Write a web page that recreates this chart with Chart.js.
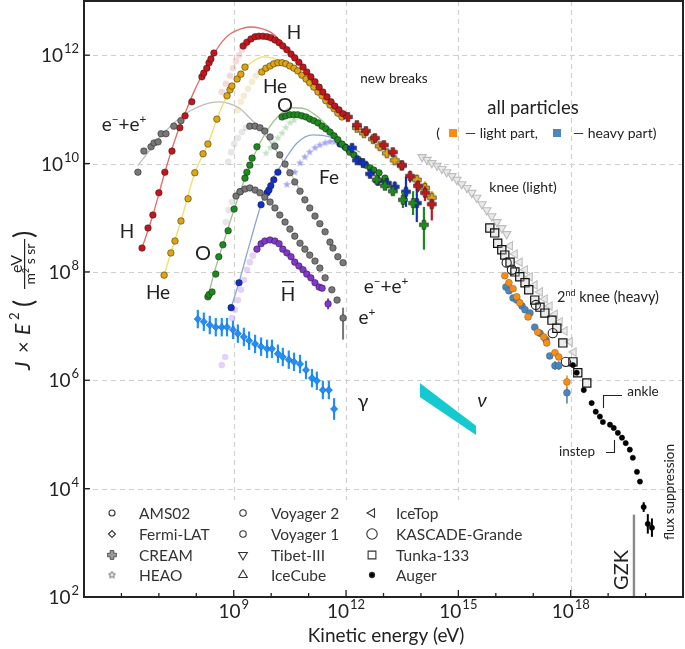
<!DOCTYPE html>
<html><head><meta charset="utf-8">
<script src="https://cdn.jsdelivr.net/npm/chart.js@4.4.1/dist/chart.umd.min.js"></script>
<style>html,body{margin:0;padding:0;background:#fff;}canvas{display:block;}</style>
</head><body>
<canvas id="c" width="685" height="649"></canvas>
<script>
// ===== DATA (log10 of kinetic energy [eV] and log10 of J*E^2) =====
const xTickExp = [9, 12, 15, 18];
const yTickExp = [2, 4, 6, 8, 10, 12];
const legendNames = ['AMS02','Fermi-LAT','CREAM','HEAO','Voyager 2','Voyager 1','Tibet-III','IceCube','IceTop','KASCADE-Grande','Tunka-133','Auger'];

// Protons (H)
const H_E  = [6.55,6.71,6.84,7.00,7.16,7.35,7.56,7.70,7.88,8.15,8.20,8.28,8.34,8.39,8.47];
const H_F  = [8.44,8.81,9.05,9.46,9.84,10.23,10.66,10.88,11.14,11.60,11.67,11.76,11.86,11.93,12.04];
const Hf_E = [8.68,8.79,8.90,8.98,9.06,9.14,9.22,9.30];
const Hf_F = [11.32,11.47,11.62,11.76,11.89,12.00,12.10,12.17];
const Hd_E = [9.25,9.35,9.46,9.57,9.67,9.78,9.89,9.99,10.10,10.21,10.31,10.42,10.53,10.63,10.74,10.85,10.95,11.06,11.17,11.28,11.38,11.49,11.60,11.70,11.81,11.92];
const Hd_F = [12.17,12.24,12.30,12.34,12.35,12.35,12.34,12.32,12.28,12.23,12.17,12.10,12.02,11.95,11.87,11.78,11.69,11.60,11.51,11.41,11.32,11.23,11.14,11.06,10.99,10.92];
const Hc_E = [6.55,6.84,7.16,7.43,7.70,7.96,8.23,8.47,8.68,8.90,9.17,9.43,9.70,9.97,10.23,10.50,10.77,11.03,11.30,11.57,11.92];
const Hc_F = [8.44,9.05,9.84,10.44,10.93,11.36,11.73,12.02,12.24,12.39,12.48,12.52,12.50,12.43,12.28,12.08,11.87,11.64,11.42,11.18,10.94];
const Hx_E = [12.05,12.29,12.53,12.77,13.01,13.25,13.49,13.71,13.92,14.11,14.29];
const Hx_F = [10.86,10.71,10.60,10.47,10.34,10.21,9.97,9.77,9.59,9.46,9.25];
const Hx_lo = [0.04,0.04,0.04,0.05,0.05,0.06,0.08,0.12,0.12,0.15,0.30];
const Hx_hi = [0.04,0.04,0.04,0.05,0.05,0.06,0.08,0.10,0.10,0.12,0.10];

// Helium
const He_E  = [7.14,7.32,7.43,7.59,7.78,7.96,8.18,8.31,8.55,8.82,8.90,8.95,9.09,9.19,9.30];
const He_F  = [7.94,8.35,8.57,8.94,9.35,9.83,10.18,10.36,10.82,11.25,11.36,11.43,11.56,11.65,11.78];
const Hef_E = [9.11,9.19,9.27,9.38,9.49,9.59,9.70];
const Hef_F = [10.99,11.14,11.25,11.38,11.51,11.62,11.69];
const Hed_E = [9.75,9.86,9.97,10.07,10.18,10.29,10.39,10.50,10.61,10.71,10.82,10.93,11.03,11.14,11.25,11.36,11.46,11.57,11.68,11.78,11.89];
const Hed_F = [11.69,11.76,11.80,11.84,11.86,11.86,11.84,11.80,11.76,11.71,11.63,11.56,11.49,11.41,11.32,11.25,11.16,11.08,11.01,10.93,10.86];
const Hec_E = [7.14,7.32,7.59,7.96,8.31,8.55,8.82,9.09,9.33,9.57,9.78,10.02,10.29,10.55,10.82,11.17,11.57,11.89];
const Hec_F = [7.94,8.35,8.94,9.83,10.36,10.82,11.25,11.56,11.78,11.91,11.97,11.95,11.87,11.78,11.64,11.40,11.10,10.88];
const Hex_E = [12.29,12.48,12.72,12.90,13.09,13.30,13.49,13.89,14.11,14.29];
const Hex_F = [10.66,10.56,10.45,10.32,10.19,10.06,9.96,9.70,9.55,9.37];
const Hex_lo = [0.04,0.04,0.04,0.05,0.05,0.06,0.07,0.12,0.14,0.20];
const Hex_hi = [0.04,0.04,0.04,0.05,0.05,0.06,0.07,0.10,0.12,0.12];

// Electrons + positrons
const eL_E = [6.44,6.60,6.79,6.87,6.98,7.06,7.19,7.40,7.59];
const eL_F = [9.84,10.23,10.31,10.38,10.40,10.55,10.55,10.69,10.79];
const eC_E = [6.44,6.76,7.03,7.30,7.56,7.83,8.10,8.36,8.63,8.90,9.17,9.43,9.70,9.97,10.23,10.50,10.77];
const eC_F = [9.96,10.25,10.49,10.68,10.84,10.97,11.06,11.12,11.14,11.10,11.01,10.84,10.64,10.40,10.14,9.84,9.51];
const eUf_E = [8.85,8.93,9.01,9.11,9.22,9.33];
const eUf_F = [10.03,10.21,10.36,10.47,10.58,10.66];
const eU_E = [9.43,9.57,9.70,9.83,9.97,10.10,10.23,10.37,10.50,10.63,10.77,10.90,11.03,11.17,11.30,11.44,11.57,11.65,11.78,11.92];
const eU_F = [10.69,10.69,10.66,10.60,10.49,10.32,10.16,9.99,9.83,9.66,9.49,9.33,9.18,9.03,8.89,8.74,8.55,8.44,8.28,8.17];
const eLf_E = [8.79,8.87,8.95];
const eLf_F = [8.92,9.14,9.29];
const eLo_E = [9.06,9.17,9.30,9.43,9.57,9.70,9.83,9.97,10.10,10.23,10.37,10.50,10.63,10.77,10.90,11.03,11.17,11.30,11.44,11.62,11.76];
const eLo_F = [9.40,9.48,9.53,9.55,9.51,9.46,9.38,9.29,9.18,9.05,8.92,8.79,8.66,8.53,8.42,8.31,8.20,8.07,7.89,7.67,7.48];
const ePos_E = [11.92], ePos_F = [7.15], ePos_lo = [0.40], ePos_hi = [0.19];

// Antiprotons
const pbf_E = [8.68,8.77,8.95,9.03,9.11,9.19,9.27,9.35,9.43,9.51];
const pbf_F = [6.28,6.43,7.15,7.30,7.48,7.67,7.85,8.04,8.18,8.30];
const pb_E = [9.62,9.73,9.83,9.97,10.10,10.21,10.31,10.42,10.53,10.63,10.74,10.85,10.95,11.06,11.17,11.28,11.36];
const pb_F = [8.42,8.52,8.57,8.59,8.57,8.52,8.42,8.35,8.28,8.18,8.11,8.04,7.96,7.89,7.80,7.72,7.70];
const pbx_E = [11.52], pbx_F = [7.41], pbx_err = [0.10];

// Oxygen
const O_E  = [8.31,8.34,8.42,8.52,8.60,8.71,8.85,9.01,9.17,9.30,9.35,9.43,9.49,9.62];
const O_F  = [7.54,7.58,7.63,7.96,8.28,8.50,8.76,9.16,9.48,9.73,9.84,9.97,10.10,10.31];
const Of_E = [9.86,9.97,10.07,10.18,10.29,10.39,10.50,10.61];
const Of_F = [10.19,10.29,10.38,10.47,10.56,10.66,10.75,10.80];
const Od_E = [10.29,10.39,10.50,10.61,10.71,10.82,10.93,11.03,11.14,11.25,11.36,11.46,11.57,11.68,11.78,11.89,12.00,12.10,12.21,12.32,12.42,12.53,12.64,12.74,12.88,13.04];
const Od_F = [10.86,10.88,10.90,10.90,10.90,10.88,10.86,10.82,10.79,10.75,10.69,10.64,10.58,10.51,10.44,10.36,10.29,10.21,10.16,10.08,10.03,9.97,9.92,9.88,9.83,9.73];
const Oc_E = [8.31,8.50,8.68,8.90,9.17,9.43,9.70,9.97,10.23,10.55,10.90,11.25,11.57,11.89,12.16,12.42];
const Oc_F = [7.54,8.04,8.44,8.92,9.48,9.97,10.38,10.69,10.90,11.03,11.01,10.86,10.65,10.40,10.22,10.06];
const Ox_E = [12.82,13.04,13.25,13.52,13.79,14.08];
const Ox_F = [9.70,9.59,9.49,9.33,9.27,8.87];
const Ox_lo = [0.05,0.05,0.08,0.15,0.22,0.46];
const Ox_hi = [0.05,0.05,0.08,0.15,0.22,0.33];

// Iron
const Fe_E  = [8.93,9.14,9.73,9.89,9.94,9.99,10.07,10.18];
const Fe_F  = [7.34,7.80,9.24,9.46,9.51,9.59,9.70,9.84];
const Fes_E = [10.42,10.63,10.77,10.90,11.03,11.17,11.30,11.44,11.57,11.70];
const Fes_F = [9.61,9.84,10.01,10.12,10.21,10.29,10.34,10.38,10.40,10.40];
const Fed_E = [11.84,11.97,12.08];
const Fed_F = [10.36,10.31,10.25];
const Fex_E = [12.16,12.29,12.45,12.64,12.85,13.09,13.30,13.60,13.89];
const Fex_F = [10.29,10.06,10.01,9.81,9.68,9.64,9.57,9.48,9.27];
const Fex_lo = [0.04,0.05,0.05,0.06,0.08,0.08,0.10,0.28,0.35];
const Fex_hi = [0.04,0.05,0.05,0.06,0.08,0.08,0.10,0.28,0.42];
const Fec_E = [8.93,9.14,9.43,9.73,9.99,10.31,10.69,11.11,11.57,12.02,12.37];
const Fec_F = [7.34,7.81,8.53,9.24,9.66,10.01,10.38,10.53,10.49,10.34,10.21];

// Diffuse gamma rays
const g_E = [8.04,8.20,8.36,8.52,8.68,8.82,8.98,9.11,9.27,9.41,9.57,9.73,9.89,10.02,10.18,10.31,10.47,10.61,10.77,10.93,11.09,11.22,11.38,11.54,11.68];
const g_F = [7.13,7.08,7.02,6.98,6.98,6.98,6.93,6.86,6.80,6.73,6.67,6.62,6.58,6.58,6.49,6.43,6.38,6.34,6.30,6.19,6.04,5.99,5.82,5.82,5.47];
const g_err = [0.17,0.17,0.17,0.17,0.17,0.17,0.17,0.17,0.17,0.17,0.17,0.17,0.17,0.17,0.17,0.17,0.17,0.17,0.17,0.17,0.17,0.17,0.17,0.17,0.20];

// Neutrinos (IceCube band)
const nu_E  = [13.97,15.47];
const nu_Hi = [5.95,5.16];
const nu_Lo = [5.69,4.99];

// Air-shower all-particle data
const tib_E = [14.03,14.16,14.29,14.43,14.56,14.69,14.83,14.96,15.09,15.23,15.36,15.49,15.63,15.76,15.89,16.03,16.16,16.29];
const tib_F = [10.12,10.07,10.01,9.96,9.90,9.84,9.77,9.70,9.62,9.55,9.46,9.37,9.25,9.14,9.03,8.92,8.81,8.70];
const itp_E = [16.38,16.51,16.64,16.78,16.91,17.04,17.18,17.31,17.44,17.58,17.71,17.84,17.98,18.08];
const itp_F = [8.48,8.33,8.18,8.04,7.91,7.76,7.63,7.50,7.37,7.22,7.08,6.91,6.71,6.52];
const tun_E = [15.84,15.97,16.05,16.16,16.24,16.38,16.51,16.64,16.78,16.88,17.04,17.18,17.31,17.50,17.63,17.79,18.06,18.19,18.43];
const tun_F = [8.81,8.72,8.53,8.41,8.31,8.18,8.00,7.91,7.80,7.67,7.48,7.35,7.24,7.11,6.96,6.69,6.34,6.14,5.95];
const kg_E = [16.29,16.43,17.07,17.52,17.87];
const kg_F = [8.17,8.04,7.39,6.87,6.34];
const lt_E = [16.24,16.35,16.46,16.56,16.64,16.86,17.12,17.28,17.36,17.58,17.68,17.90];
const lt_F = [7.93,7.80,7.69,7.54,7.43,7.17,6.89,6.80,6.69,6.51,6.43,5.97];
const lt_err = [0,0,0,0,0,0,0,0,0,0,0,0.12];
const hv_E = [16.27,16.35,16.46,16.56,16.70,16.78,16.91,17.04,17.18,17.34,17.44,17.58,17.68,17.90];
const hv_F = [7.72,7.65,7.52,7.48,7.37,7.30,7.24,6.98,6.87,6.75,6.45,6.27,6.27,5.77];
const hv_lo = [0,0,0,0,0,0,0,0,0,0,0,0.08,0.08,0.20];
const hv_hi = [0,0,0,0,0,0,0,0,0,0,0,0.08,0.08,0.10];
const aug_E = [18.06,18.16,18.35,18.56,18.67,18.78,18.86,19.05,19.15,19.26,19.37,19.47,19.58,19.66,19.77,19.85,19.95,20.06,20.17];
const aug_F = [6.28,6.14,5.82,5.58,5.42,5.33,5.23,5.18,5.12,5.03,4.94,4.84,4.72,4.57,4.31,4.13,3.66,3.35,3.28];
const aug_err = [0,0,0,0,0,0,0,0,0,0,0,0,0,0,0,0,0.09,0.18,0.17];
const gzk_E = 19.69, gzk_Top = 3.52;

// ===== helpers =====
const FONT = 'Lato, "DejaVu Sans", sans-serif';
const P = (E, F) => E.map((e, i) => ({x: Math.pow(10, e), y: Math.pow(10, F[i])}));
function mkPlus(fill) {
  const c = document.createElement('canvas'); c.width = 12; c.height = 12;
  const g = c.getContext('2d'); const a = 4.4, b = 1.8, cx = 6, cy = 6;
  g.beginPath();
  [[-b,-a],[b,-a],[b,-b],[a,-b],[a,b],[b,b],[b,a],[-b,a],[-b,b],[-a,b],[-a,-b],[-b,-b]].forEach(p => g.lineTo(cx+p[0], cy+p[1]));
  g.closePath(); g.fillStyle = fill; g.fill(); g.strokeStyle = 'rgba(40,40,40,0.85)'; g.lineWidth = 0.8; g.stroke();
  return c;
}
function mkStar(fill, stroke, r) {
  const s = Math.ceil(2*r + 3); const c = document.createElement('canvas'); c.width = s; c.height = s;
  const g = c.getContext('2d'); g.beginPath();
  for (let k = 0; k < 10; k++) { const rr = k % 2 ? r*0.45 : r; const a = -Math.PI/2 + k*Math.PI/5; g.lineTo(s/2 + rr*Math.cos(a), s/2 + rr*Math.sin(a)); }
  g.closePath(); g.fillStyle = fill; g.fill(); if (stroke) { g.strokeStyle = stroke; g.lineWidth = 0.8; g.stroke(); }
  return c;
}
const EDGE = 'rgba(25,25,25,0.8)';
function S(E, F, bg, o) {
  return Object.assign({data: P(E, F), showLine: false, pointRadius: 3.3, pointHoverRadius: 3.3,
    pointBackgroundColor: bg, pointBorderColor: EDGE, pointBorderWidth: 0.6, order: 5}, o || {});
}
function C(E, F, col) {
  return {data: P(E, F), showLine: true, borderColor: col, borderWidth: 1.3, pointRadius: 0, pointHoverRadius: 0,
    cubicInterpolationMode: 'monotone', fill: false, order: 40};
}
const RED = '#c3161c', GOLD = '#e0a50c', GREEN = '#1d8a1d', BLUE = '#1030c8', GRAY = '#777777', PURP = '#8236cf', GAM = '#1e8fff';

const datasets = [
  C(Hc_E, Hc_F, '#e36a6a'), C(Hec_E, Hec_F, '#ece064'), C(eC_E, eC_F, '#bdbdbd'), C(Oc_E, Oc_F, '#9cc48c'), C(Fec_E, Fec_F, '#8ea7d2'),
  S(Hf_E, Hf_F, 'rgba(205,90,90,0.22)', {pointBorderColor: 'rgba(0,0,0,0)', order: 30}),
  S(Hef_E, Hef_F, 'rgba(225,190,110,0.3)', {pointBorderColor: 'rgba(0,0,0,0)', order: 30}),
  S(eUf_E, eUf_F, 'rgba(140,140,140,0.22)', {pointBorderColor: 'rgba(0,0,0,0)', order: 30}),
  S(eLf_E, eLf_F, 'rgba(140,140,140,0.22)', {pointBorderColor: 'rgba(0,0,0,0)', order: 30}),
  S(pbf_E, pbf_F, 'rgba(165,110,225,0.3)', {pointBorderColor: 'rgba(0,0,0,0)', order: 30}),
  S(Of_E, Of_F, '', {pointStyle: mkStar('rgba(60,160,60,0.3)', null, 4), order: 30}),
  S(Fes_E, Fes_F, '', {pointStyle: mkStar('rgba(95,95,230,0.55)', null, 4), order: 30}),
  S(eL_E, eL_F, GRAY), S(eU_E, eU_F, GRAY), S(eLo_E, eLo_F, GRAY),
  S(ePos_E, ePos_F, GRAY, {errLo: ePos_lo, errHi: ePos_hi, errColor: GRAY, errWidth: 2}),
  S(pb_E, pb_F, PURP), S(pbx_E, pbx_F, PURP, {errLo: pbx_err, errColor: PURP, errWidth: 2}),
  S(H_E, H_F, RED), S(Hd_E, Hd_F, RED), S(He_E, He_F, GOLD), S(Hed_E, Hed_F, GOLD),
  S(O_E, O_F, GREEN), S(Od_E, Od_F, GREEN), S(Fe_E, Fe_F, BLUE), S(Fed_E, Fed_F, BLUE),
  S(Hx_E, Hx_F, '', {pointStyle: mkPlus(RED), errLo: Hx_lo, errHi: Hx_hi, errColor: RED, errWidth: 2.2, order: 3}),
  S(Hex_E, Hex_F, '', {pointStyle: mkPlus(GOLD), errLo: Hex_lo, errHi: Hex_hi, errColor: GOLD, errWidth: 2.2, order: 3}),
  S(Ox_E, Ox_F, '', {pointStyle: mkPlus(GREEN), errLo: Ox_lo, errHi: Ox_hi, errColor: GREEN, errWidth: 2.2, order: 3}),
  S(Fex_E, Fex_F, '', {pointStyle: mkPlus(BLUE), errLo: Fex_lo, errHi: Fex_hi, errColor: BLUE, errWidth: 2.2, order: 3}),
  S(g_E, g_F, GAM, {pointStyle: 'rectRot', pointRadius: 3.6, pointBorderColor: '#145ea8', errLo: g_err, errColor: GAM, errWidth: 2.2}),
  {data: P(nu_E, nu_Hi), showLine: true, borderColor: 'rgba(0,0,0,0)', borderWidth: 0.5, pointRadius: 0, fill: false, order: 20},
  {data: P(nu_E, nu_Lo), showLine: true, borderColor: 'rgba(0,0,0,0)', borderWidth: 0.5, pointRadius: 0, fill: '-1', backgroundColor: '#14c9cf', order: 20},
  S(tib_E, tib_F, 'rgba(220,220,220,0.6)', {pointStyle: 'triangle', rotation: 180, pointRadius: 4.8, pointBorderColor: '#bcbcbc', pointBorderWidth: 1.1, order: 25}),
  S(itp_E, itp_F, 'rgba(220,220,220,0.6)', {pointStyle: 'triangle', rotation: 270, pointRadius: 4.8, pointBorderColor: '#c0c0c0', pointBorderWidth: 1.1, order: 25}),
  S(tun_E, tun_F, 'rgba(200,200,200,0.35)', {pointStyle: 'rect', pointRadius: 5.8, pointBorderColor: '#111', pointBorderWidth: 1.2, order: 8}),
  S(kg_E, kg_F, 'rgba(0,0,0,0)', {pointRadius: 4.6, pointBorderColor: '#222', pointBorderWidth: 1.1, order: 7}),
  S(lt_E, lt_F, '#fb8c12', {pointRadius: 3.5, pointBorderColor: 'rgba(60,60,60,0.5)', errLo: lt_err, errColor: '#fb8c12', errWidth: 1.6, order: 6}),
  S(hv_E, hv_F, '#4a86bd', {pointRadius: 3.5, pointBorderColor: 'rgba(60,60,60,0.5)', errLo: hv_lo, errHi: hv_hi, errColor: '#4a86bd', errWidth: 1.6, order: 6}),
  S(aug_E, aug_F, '#000', {pointRadius: 2.6, pointBorderColor: '#000', errLo: aug_err, errColor: '#000', errWidth: 2, order: 4}),
  {data: [{x: Math.pow(10, gzk_E), y: 100}, {x: Math.pow(10, gzk_E), y: Math.pow(10, gzk_Top)}], showLine: true,
   borderColor: '#8a8a8a', borderWidth: 2.4, pointRadius: 0, order: 4}
];

// ===== plugins =====
const errorBars = {
  id: 'errorBars',
  beforeDatasetDraw(chart, args) {
    const ds = chart.data.datasets[args.index];
    if (!ds.errLo) return;
    const ys = chart.scales.y, ctx = chart.ctx;
    ctx.save(); ctx.strokeStyle = ds.errColor; ctx.lineWidth = ds.errWidth || 1.5;
    args.meta.data.forEach((pt, i) => {
      const d = ds.data[i]; const lo = ds.errLo[i] || 0; const hi = ds.errHi ? (ds.errHi[i] || 0) : lo;
      if (!lo && !hi) return;
      ctx.beginPath();
      ctx.moveTo(pt.x, ys.getPixelForValue(d.y / Math.pow(10, lo)));
      ctx.lineTo(pt.x, ys.getPixelForValue(d.y * Math.pow(10, hi)));
      ctx.stroke();
    });
    ctx.restore();
  }
};

function rich(ctx, parts, x, y, size, align, color) {
  ctx.save(); ctx.fillStyle = color || '#222'; ctx.textBaseline = 'alphabetic'; ctx.textAlign = 'left';
  const f = p => (p.i ? 'italic ' : '') + (p.s ? size * 0.62 : size) + 'px ' + FONT;
  const ws = parts.map(p => { ctx.font = f(p); return ctx.measureText(p.t).width; });
  const tot = ws.reduce((a, b) => a + b, 0);
  let cx = align === 'center' ? x - tot / 2 : align === 'right' ? x - tot : x;
  parts.forEach((p, k) => { ctx.font = f(p); ctx.fillText(p.t, cx, p.s ? y - size * 0.42 : y); cx += ws[k]; });
  ctx.restore();
}
function txt(ctx, s, x, y, size, align, color, italic) {
  ctx.save(); ctx.font = (italic ? 'italic ' : '') + size + 'px ' + FONT; ctx.fillStyle = color || '#222';
  ctx.textAlign = align || 'center'; ctx.textBaseline = 'middle'; ctx.fillText(s, x, y); ctx.restore();
}
function pow10(ctx, exp, x, y, align) {
  ctx.save(); ctx.fillStyle = '#222'; ctx.textBaseline = 'alphabetic'; ctx.textAlign = 'left';
  ctx.font = '19px ' + FONT; const w1 = ctx.measureText('10').width;
  ctx.font = '13px ' + FONT; const w2 = ctx.measureText(String(exp)).width;
  const x0 = align === 'right' ? x - w1 - w2 - 1 : x - (w1 + w2 + 1) / 2;
  ctx.font = '19px ' + FONT; ctx.fillText('10', x0, y);
  ctx.font = '13px ' + FONT; ctx.fillText(String(exp), x0 + w1 + 1, y - 9);
  ctx.restore();
}

const decor = {
  id: 'decor',
  beforeDraw(chart) { const c = chart.ctx; c.save(); c.fillStyle = '#fff'; c.fillRect(0, 0, chart.width, chart.height); c.restore(); },
  beforeDatasetsDraw(chart) {
    const {ctx, chartArea: a, scales: {x, y}} = chart;
    ctx.save(); ctx.strokeStyle = '#cfcfcf'; ctx.lineWidth = 1.1; ctx.setLineDash([5, 4]);
    xTickExp.forEach(e => { const px = Math.round(x.getPixelForValue(Math.pow(10, e))) + 0.5; ctx.beginPath(); ctx.moveTo(px, a.top); ctx.lineTo(px, a.bottom); ctx.stroke(); });
    yTickExp.forEach(e => { if (e <= 2) return; const py = Math.round(y.getPixelForValue(Math.pow(10, e))) + 0.5; ctx.beginPath(); ctx.moveTo(a.left, py); ctx.lineTo(a.right, py); ctx.stroke(); });
    ctx.restore();
  },
  afterDatasetsDraw(chart) {
    const {ctx, chartArea: a, scales: {x, y}} = chart;
    ctx.save(); ctx.fillStyle = '#fff'; ctx.fillRect(90, 500, 442, 95); ctx.restore();
    const cols = [[112, 139], [243, 271], [372, 396]], rows = [513, 534, 555, 575];
    const mk = [
      {pointStyle: 'circle', radius: 3}, {pointStyle: 'rectRot', radius: 3.5}, {img: mkPlus('#999')}, {img: mkStar('#fff', '#444', 3.6)},
      {pointStyle: 'circle', radius: 3.2}, {pointStyle: 'circle', radius: 3.2}, {pointStyle: 'triangle', radius: 5, rotation: 180}, {pointStyle: 'triangle', radius: 5},
      {pointStyle: 'triangle', radius: 5, rotation: 270}, {pointStyle: 'circle', radius: 5.2}, {pointStyle: 'rect', radius: 5.5}, {pointStyle: 'circle', radius: 2.6, fill: '#000'}
    ];
    legendNames.forEach((name, k) => {
      const col = cols[Math.floor(k / 4)], ry = rows[k % 4];
      const m = mk[k];
      ctx.save();
      if (m.img) { ctx.drawImage(m.img, col[0] - m.img.width / 2, ry - m.img.height / 2); }
      else {
        ctx.fillStyle = m.fill || '#fff'; ctx.strokeStyle = '#333'; ctx.lineWidth = 1.1;
        Chart.helpers.drawPoint(ctx, {pointStyle: m.pointStyle, radius: m.radius, rotation: m.rotation || 0, borderWidth: 1.1}, col[0], ry);
      }
      ctx.restore();
      txt(ctx, name, col[1], ry + 1, 15.5, 'left', '#333');
    });
    ctx.save(); ctx.strokeStyle = '#222'; ctx.lineWidth = 2;
    ctx.strokeRect(a.left, a.top, a.right - a.left, a.bottom - a.top);
    ctx.lineWidth = 1.3;
    for (let e = 6; e <= 20; e++) {
      const px = x.getPixelForValue(Math.pow(10, e)); const L = xTickExp.includes(e) ? 7 : 4;
      ctx.beginPath(); ctx.moveTo(px, a.bottom); ctx.lineTo(px, a.bottom - L); ctx.stroke();
    }
    yTickExp.forEach(e => { const py = y.getPixelForValue(Math.pow(10, e)); ctx.beginPath(); ctx.moveTo(a.left, py); ctx.lineTo(a.left + 6, py); ctx.stroke(); });
    ctx.restore();
    xTickExp.forEach(e => pow10(ctx, e, x.getPixelForValue(Math.pow(10, e)), 618, 'center'));
    yTickExp.forEach(e => pow10(ctx, e, 79, y.getPixelForValue(Math.pow(10, e)) + 7, 'right'));
    txt(ctx, 'Kinetic energy (eV)', 386, 636, 19, 'center', '#222');
    ctx.save(); ctx.translate(0, 300); ctx.rotate(-Math.PI / 2); ctx.fillStyle = '#222'; ctx.textBaseline = 'alphabetic'; ctx.textAlign = 'left';
    ctx.font = 'italic 21px ' + FONT; ctx.fillText('J', -70, 30);
    ctx.font = '20px ' + FONT; ctx.fillText('×', -53, 30);
    ctx.font = 'italic 21px ' + FONT; ctx.fillText('E', -35, 30);
    ctx.font = '13px ' + FONT; ctx.fillText('2', -20, 19);
    ctx.font = '27px ' + FONT; ctx.fillText('(', -7, 33); ctx.fillText(')', 62, 33);
    ctx.textAlign = 'center'; ctx.font = '16px ' + FONT; ctx.fillText('eV', 36, 22);
    ctx.fillRect(11, 24, 50, 1.2);
    rich(ctx, [{t: 'm'}, {t: '2', s: 1}, {t: ' s sr'}], 36, 35, 14, 'center', '#222');
    ctx.restore();
    txt(ctx, 'H', 294, 33, 19); txt(ctx, 'He', 275, 87, 19); txt(ctx, 'O', 285, 106, 20); txt(ctx, 'Fe', 329, 178, 19);
    rich(ctx, [{t: 'e'}, {t: '−', s: 1}, {t: '+'}, {t: 'e'}, {t: '+', s: 1}], 124, 131, 19, 'center');
    txt(ctx, 'H', 127, 232, 19); txt(ctx, 'He', 158, 293, 19); txt(ctx, 'O', 203, 254, 20);
    txt(ctx, 'H', 288, 295, 19); ctx.save(); ctx.fillStyle = '#222'; ctx.fillRect(282, 281, 12, 1.4); ctx.restore();
    rich(ctx, [{t: 'e'}, {t: '−', s: 1}, {t: '+'}, {t: 'e'}, {t: '+', s: 1}], 386, 293, 19, 'center');
    rich(ctx, [{t: 'e'}, {t: '+', s: 1}], 367, 324, 19, 'center');
    txt(ctx, 'γ', 363, 402, 20); txt(ctx, 'ν', 482, 401, 20, 'center', '#222', true);
    txt(ctx, 'new breaks', 394, 79, 13.5);
    txt(ctx, 'all particles', 533, 108, 18.5);
    txt(ctx, '(', 438, 133, 14);
    ctx.save(); ctx.fillStyle = '#fb8c12'; ctx.fillRect(449, 129, 8, 8); ctx.fillStyle = '#4a86bd'; ctx.fillRect(553, 129, 8, 8); ctx.restore();
    txt(ctx, '— light part,', 465, 133, 14, 'left'); txt(ctx, '— heavy part)', 573, 133, 14, 'left');
    txt(ctx, 'knee (light)', 523, 187, 14);
    rich(ctx, [{t: '2'}, {t: 'nd', s: 1}, {t: ' knee (heavy)'}], 608, 302, 14.5, 'center');
    txt(ctx, 'ankle', 643, 392, 13.5);
    txt(ctx, 'instep', 577, 452, 13.5);
    ctx.save(); ctx.strokeStyle = '#222'; ctx.lineWidth = 1.1;
    ctx.beginPath(); ctx.moveTo(603.5, 408); ctx.lineTo(603.5, 395.5); ctx.lineTo(622, 395.5); ctx.stroke();
    ctx.beginPath(); ctx.moveTo(614.5, 440); ctx.lineTo(614.5, 452.5); ctx.lineTo(606, 452.5); ctx.stroke();
    ctx.restore();
    ctx.save(); ctx.translate(670, 492); ctx.rotate(-Math.PI / 2); txt(ctx, 'flux suppression', 0, 0, 13.5); ctx.restore();
    ctx.save(); ctx.translate(622, 570); ctx.rotate(-Math.PI / 2); txt(ctx, 'GZK', 0, 0, 20); ctx.restore();
  }
};

new Chart(document.getElementById('c'), {
  type: 'scatter',
  data: {datasets},
  options: {
    responsive: false, animation: false, devicePixelRatio: 1,
    layout: {autoPadding: false, padding: {left: 0, right: 2, top: 1, bottom: 0}},
    plugins: {legend: {display: false}, tooltip: {enabled: false}},
    elements: {line: {tension: 0}},
    scales: {
      x: {type: 'logarithmic', min: 1e5, max: 1e21, grid: {display: false}, border: {display: false}, ticks: {display: false},
          afterFit(s) { s.height = 52; }},
      y: {type: 'logarithmic', min: 1e2, max: 1e13, grid: {display: false}, border: {display: false}, ticks: {display: false},
          afterFit(s) { s.width = 84; }}
    }
  },
  plugins: [decor, errorBars]
});
</script>
</body></html>
